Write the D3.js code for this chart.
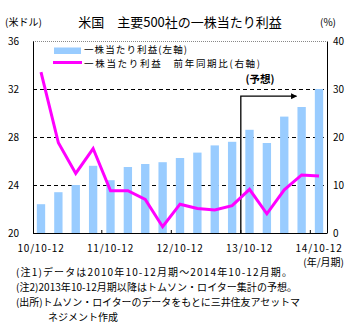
<!DOCTYPE html>
<html><head><meta charset="utf-8">
<script src="https://cdn.jsdelivr.net/npm/d3@7"></script>
<style>
body{margin:0;background:#fff;}
text{font-family:"Noto Sans CJK JP","DejaVu Sans",sans-serif;fill:#000;}
</style></head>
<body><svg id="c" width="358" height="329"></svg>
<script>
const categories = ["10/10-12","11/1-3","11/4-6","11/7-9","11/10-12","12/1-3","12/4-6","12/7-9","12/10-12","13/1-3","13/4-6","13/7-9","13/10-12","14/1-3","14/4-6","14/7-9","14/10-12"];
const epsValues = [22.4,23.4,24.0,25.6,24.4,25.5,25.75,25.9,26.25,26.7,27.3,27.6,28.6,27.5,29.7,30.5,32.0];
const yoyValues = [33.5,18.8,12.4,17.6,8.8,8.8,7.0,1.3,6.0,5.1,4.8,5.7,9.1,4.0,9.0,12.1,11.9];
const leftTicks = [20,24,28,32,36];
const rightTicks = [0,10,20,30,40];
const labelIdx = [0,4,8,12,16];
const forecastStart = 12;

const svg = d3.select("#c");
const L=33, R=327, T=41, B=233;
const x = d3.scaleBand().domain(categories).range([L,R]).paddingInner(0.52).paddingOuter(0.22);
const yL = d3.scaleLinear().domain([20,36]).range([B,T]);
const yR = d3.scaleLinear().domain([0,40]).range([B,T]);
const step = x.step(), gapHalf = (step - x.bandwidth())/2;

// title
svg.append("text").attr("x",180).attr("y",27).attr("text-anchor","middle").attr("font-size",13).text("米国　主要500社の一株当たり利益");
svg.append("text").attr("x",5).attr("y",26).attr("font-size",10).text("(米ドル)");
svg.append("text").attr("x",320).attr("y",26).attr("font-size",10).text("(%)");

// gridlines
svg.append("g").selectAll("line").data(leftTicks.filter(d=>d>20&&d<36)).join("line")
  .attr("x1",L).attr("x2",R).attr("y1",d=>yL(d)).attr("y2",d=>yL(d))
  .attr("stroke","#000").attr("stroke-dasharray","4,3").attr("shape-rendering","crispEdges");
svg.append("line").attr("x1",L).attr("x2",R).attr("y1",yL(36)).attr("y2",yL(36))
  .attr("stroke","#888").attr("stroke-dasharray","1,1").attr("shape-rendering","crispEdges");

// bars
svg.append("g").selectAll("rect").data(epsValues).join("rect")
  .attr("x",(d,i)=>x(categories[i])).attr("width",x.bandwidth())
  .attr("y",d=>yL(d)).attr("height",d=>B-yL(d)).attr("fill","#99CCFF");

// axes
const gl = svg.append("g").attr("transform",`translate(${L},0)`)
  .call(d3.axisLeft(yL).tickValues(leftTicks).tickSize(0).tickPadding(14));
gl.select(".domain").attr("stroke","#000");
gl.selectAll("text").attr("font-size",10).attr("font-family","Liberation Sans, Arial");
const gr = svg.append("g").attr("transform",`translate(${R},0)`)
  .call(d3.axisRight(yR).tickValues(rightTicks).tickSize(0).tickPadding(6));
gr.select(".domain").attr("stroke","#000");
gr.selectAll("text").attr("font-size",10).attr("font-family","Liberation Sans, Arial");

const gb = svg.append("g").attr("transform",`translate(0,${B})`)
  .call(d3.axisBottom(x).tickValues(labelIdx.map(i=>categories[i])).tickSize(0).tickPadding(12));
gb.select(".domain").attr("stroke","#000").attr("d",`M${L},0.5H${R}`);
gb.selectAll("text").attr("font-size",10).attr("font-family","Liberation Sans, Arial").attr("letter-spacing","0.8");
// inward ticks at year boundaries
svg.append("g").selectAll("line").data(labelIdx.filter(i=>i>0)).join("line")
  .attr("x1",i=>x(categories[i])-gapHalf).attr("x2",i=>x(categories[i])-gapHalf)
  .attr("y1",B).attr("y2",B-3).attr("stroke","#000");
svg.append("text").attr("x",344).attr("y",266).attr("text-anchor","end").attr("font-size",10).text("(年/月期)");

// forecast arrow
const fx = x(categories[forecastStart]) - gapHalf;
const fy = yR(28.5);
const fxEnd = x(categories[forecastStart+3]) - 1;
svg.append("defs").append("marker").attr("id","arr").attr("viewBox","0 0 10 10").attr("refX",9).attr("refY",5)
  .attr("markerWidth",8).attr("markerHeight",6).attr("markerUnits","userSpaceOnUse").attr("orient","auto")
  .append("path").attr("d","M0,0L10,5L0,10Z").attr("fill","#000");
svg.append("path").attr("d",`M${fx},${B}V${fy}H${fxEnd}`).attr("fill","none")
  .attr("stroke","#000").attr("stroke-width",1.3).attr("marker-end","url(#arr)");
svg.append("text").attr("x",260).attr("y",yR(30)-6).attr("text-anchor","middle").attr("font-size",10.5).attr("font-weight","bold").text("(予想)");

// line
const line = d3.line().x((d,i)=>x(categories[i])+x.bandwidth()/2).y(d=>yR(d));
svg.append("path").datum(yoyValues).attr("d",line).attr("fill","none").attr("stroke","#FF00FF").attr("stroke-width",3);

// legend
svg.append("rect").attr("x",54).attr("y",47.5).attr("width",27).attr("height",6.5).attr("fill","#99CCFF");
svg.append("text").attr("x",84).attr("y",53.2).attr("font-size",9.5).attr("textLength",103).attr("lengthAdjust","spacing").text("一株当たり利益(左軸)");
svg.append("line").attr("x1",53).attr("x2",82).attr("y1",62.5).attr("y2",62.5).attr("stroke","#FF00FF").attr("stroke-width",3);
svg.append("text").attr("x",84).attr("y",67).attr("font-size",9.5).attr("textLength",176).attr("lengthAdjust","spacing").text("一株当たり利益　前年同期比(右軸)");

// notes
const notes = [["(注1)データは2010年10-12月期～2014年10-12月期。",16,276],["(注2)2013年10-12月期以降はトムソン・ロイター集計の予想。",16,281],["(出所)トムソン・ロイターのデータをもとに三井住友アセットマ",16,284],["ネジメント作成",48,null]];
svg.append("g").selectAll("text").data(notes).join("text")
  .attr("x",d=>d[1]).attr("y",(d,i)=>276+i*15).attr("font-size",10)
  .each(function(d){ if(d[2]) d3.select(this).attr("textLength",d[2]).attr("lengthAdjust","spacing"); })
  .text(d=>d[0]);
</script></body></html>
